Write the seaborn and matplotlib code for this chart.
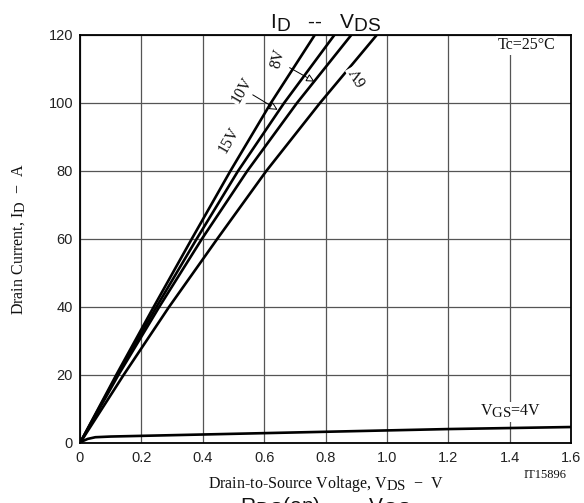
import numpy as np
import pandas as pd
import matplotlib
matplotlib.use("Agg")
import matplotlib.pyplot as plt
import seaborn as sns
import matplotlib._mathtext as _mathtext

# Drain current ID (A) versus drain-to-source voltage VDS (V) for several gate voltages
vds_15v = [0, 0.118, 0.240, 0.364, 0.490, 0.622, 0.765]
id_15v = [0, 20, 40, 60, 80, 100, 120]
vds_10v = [0, 0.121, 0.249, 0.380, 0.515, 0.665, 0.829]
id_10v = [0, 20, 40, 60, 80, 100, 120]
vds_8v = [0, 0.125, 0.258, 0.397, 0.545, 0.707, 0.884]
id_8v = [0, 20, 40, 60, 80, 100, 120]
vds_6v = [0, 0.142, 0.290, 0.447, 0.607, 0.782, 0.967]
id_6v = [0, 20, 40, 60, 80, 100, 120]
vds_4v = [0, 0.01, 0.025, 0.05, 0.1, 0.2, 0.6, 1.0, 1.2, 1.4, 1.6]
id_4v = [0, 0.6, 1.2, 1.7, 1.9, 2.1, 2.9, 3.7, 4.1, 4.4, 4.7]

x_ticks = [0, 0.2, 0.4, 0.6, 0.8, 1.0, 1.2, 1.4, 1.6]
x_tick_labels = ["0", "0.2", "0.4", "0.6", "0.8", "1.0", "1.2", "1.4", "1.6"]
y_ticks = [0, 20, 40, 60, 80, 100, 120]
y_tick_labels = ["0", "20", "40", "60", "80", "100", "120"]

frames = []
for name, xs, ys in [("15V", vds_15v, id_15v), ("10V", vds_10v, id_10v),
                     ("8V", vds_8v, id_8v), ("6V", vds_6v, id_6v),
                     ("4V", vds_4v, id_4v)]:
    frames.append(pd.DataFrame({"vds": xs, "id": ys, "vgs": name}))
df = pd.concat(frames, ignore_index=True)

sns.set_theme(style="white")
plt.rcParams["font.family"] = ["Liberation Serif", "DejaVu Serif"]
plt.rcParams["mathtext.fontset"] = "custom"
plt.rcParams["mathtext.rm"] = "Liberation Serif"
plt.rcParams["mathtext.it"] = "Liberation Serif:italic"
plt.rcParams["mathtext.bf"] = "Liberation Serif:bold"
plt.rcParams["mathtext.sf"] = "Liberation Sans"
# subscripts in this sheet are set nearly full size
_mathtext.SHRINK_FACTOR = 0.92

fig = plt.figure(figsize=(5.84, 5.03), dpi=100)
ax = fig.add_axes([80 / 584, 1 - 443 / 503, 491 / 584, 408 / 503])

sns.lineplot(data=df, x="vds", y="id", units="vgs", estimator=None, sort=False,
             color="black", linewidth=1.9, legend=False, ax=ax,
             solid_joinstyle="round", solid_capstyle="round", zorder=3)

ax.set_xlim(0, 1.6)
ax.set_ylim(0, 120)
ax.set_xticks(x_ticks)
ax.set_xticklabels(x_tick_labels)
ax.set_yticks(y_ticks)
ax.set_yticklabels(y_tick_labels)
ax.tick_params(axis="both", length=0, labelsize=10.5, colors="#222222")
ax.tick_params(axis="x", pad=6)
ax.tick_params(axis="y", pad=5)
for lab in ax.get_xticklabels() + ax.get_yticklabels():
    lab.set_fontfamily("Liberation Sans")

ax.grid(True, color="#555555", linewidth=0.9)
ax.set_axisbelow(True)
for sp in ax.spines.values():
    sp.set_visible(True)
    sp.set_color("black")
    sp.set_linewidth(1.3)

ax.set_xlabel(r"Drain-to-Source Voltage, V$_\mathrm{DS}$  $-$  V", fontsize=11.5, color="#111111")
ax.xaxis.set_label_coords(0.5, -(474 - 443) / 408)
ax.set_ylabel(r"Drain Current, I$_\mathrm{D}$  $-$  A", fontsize=11.5, color="#111111")
ax.yaxis.set_label_coords(-(80 - 27) / 491, 0.5)

box = dict(facecolor="white", edgecolor="none", pad=1.0)
lbl = dict(fontsize=11.5, color="#111111", ha="center", va="center", zorder=5, bbox=box)
ax.text(0.487, 89, "15V", rotation=60, **lbl)
ax.text(0.529, 103.7, "10V", rotation=60, **lbl)
ax.text(0.645, 113.2, "8V", rotation=75, **lbl)
ax.text(0.908, 108, "6V", rotation=120, **lbl)
ax.text(1.402, 9.2, r"V$_\mathrm{GS}$=4V", **lbl)
ax.text(1.454, 117.0, "Tc=25°C", **lbl)

arrow = dict(arrowstyle="-|>", color="black", lw=0.7, fc="white",
             mutation_scale=12, shrinkA=0, shrinkB=0)
ax.annotate("", xy=(0.644, 98.0), xytext=(0.563, 102.4), arrowprops=arrow, zorder=6)
ax.annotate("", xy=(0.764, 106.3), xytext=(0.683, 110.4), arrowprops=arrow, zorder=6)

fig.text(545 / 584, 1 - 475 / 503, "IT15896", fontsize=9, color="#111111",
         ha="center", va="center")

fig.text(326 / 584, 1 - 28.3 / 503, r"I$_\mathsf{D}$   --   V$_\mathsf{DS}$",
         fontsize=15, fontfamily="Liberation Sans", color="#111111",
         ha="center", va="baseline")
fig.text(326 / 584, 1 - 512 / 503, r"R$_\mathsf{DS}$(on)   --   V$_\mathsf{GS}$",
         fontsize=15, fontfamily="Liberation Sans", color="#111111",
         ha="center", va="baseline")

fig.savefig("out.png", dpi=100)
